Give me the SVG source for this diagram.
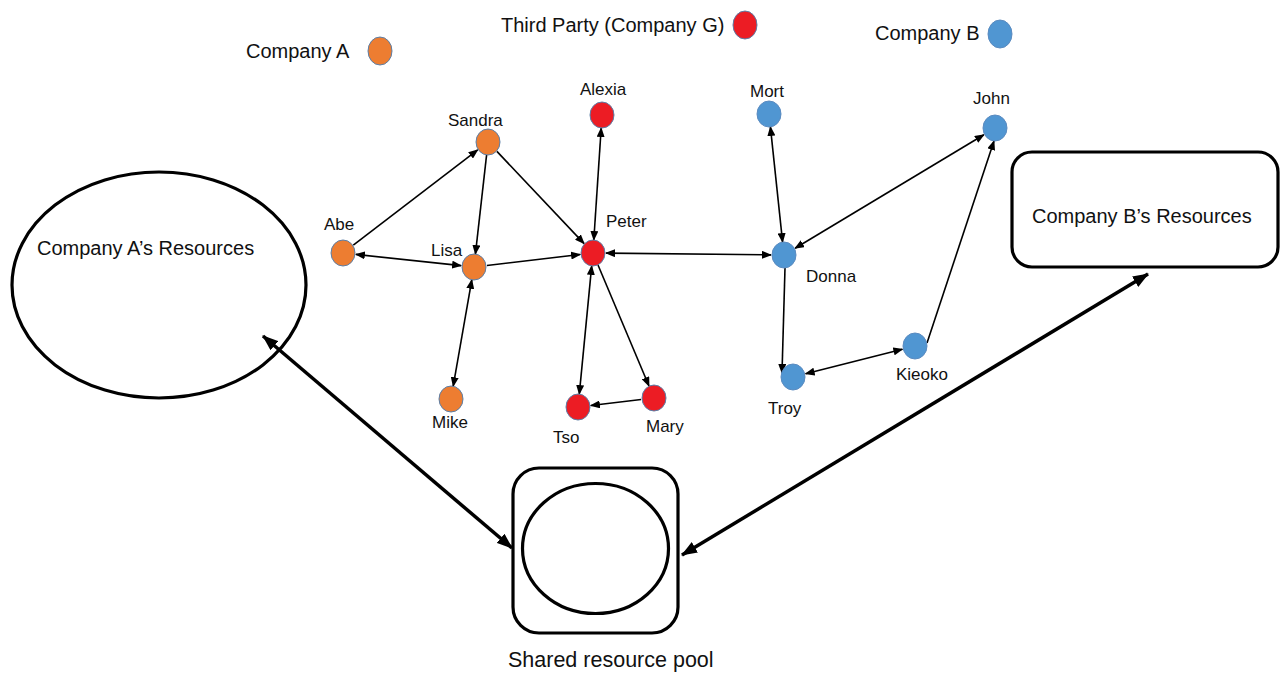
<svg xmlns="http://www.w3.org/2000/svg" width="1282" height="673" viewBox="0 0 1282 673">
<style>
text{font-family:"Liberation Sans",Arial,sans-serif;fill:#111}
.lbl{font-size:17px}
.leg{font-size:20px}
.big{font-size:20px}
.a{fill:#ED7D31;stroke:#5B7FA8;stroke-width:1}
.g{fill:#EC1C24;stroke:#5B7FA8;stroke-width:1}
.b{fill:#5096D2;stroke:#5B8BC0;stroke-width:1}
.res{fill:#fff;stroke:#000;stroke-width:3.2}
.e{stroke:#000;stroke-width:1.6;fill:none}
.eb{stroke:#000;stroke-width:3.5;fill:none}
</style>
<defs>
<marker id="ah" markerUnits="userSpaceOnUse" markerWidth="10" markerHeight="8" refX="9" refY="4" orient="auto-start-reverse" viewBox="0 0 10 8">
<path d="M0,0 L10,4 L0,8 Z" fill="#000"/>
</marker>
<marker id="ahb" markerUnits="userSpaceOnUse" markerWidth="16" markerHeight="12" refX="15" refY="6" orient="auto-start-reverse" viewBox="0 0 16 12">
<path d="M0,0 L16,6 L0,12 Z" fill="#000"/>
</marker>
</defs>

<g id="legend">
<text class="leg" x="246" y="58">Company A</text>
<ellipse class="a" cx="380" cy="51" rx="12" ry="14"/>
<text class="leg" x="501" y="32">Third Party (Company G)</text>
<ellipse class="g" cx="745" cy="25" rx="12" ry="14"/>
<text class="leg" x="875" y="40">Company B</text>
<ellipse class="b" cx="1000" cy="34" rx="12" ry="14"/>
</g>

<g id="resA">
<ellipse class="res" cx="159" cy="285" rx="147" ry="113"/>
<text class="big" x="37" y="255">Company A’s Resources</text>
</g>
<g id="resB">
<rect class="res" x="1012" y="152" width="266" height="115" rx="20"/>
<text class="big" x="1032" y="223">Company B’s Resources</text>
</g>
<g id="pool">
<rect class="res" x="513" y="468" width="165" height="165" rx="26"/>
<ellipse class="res" cx="595.5" cy="548.5" rx="73" ry="65"/>
<text x="508" y="667" style="font-size:21.5px">Shared resource pool</text>
</g>

<g id="connectors">
<line class="e" x1="353.3" y1="245.1" x2="477.7" y2="149.9" marker-end="url(#ah)"/>
<line class="e" x1="355.9" y1="254.4" x2="461.1" y2="265.6" marker-start="url(#ah)" marker-end="url(#ah)"/>
<line class="e" x1="486.6" y1="154.9" x2="475.4" y2="254.1" marker-end="url(#ah)"/>
<line class="e" x1="496.9" y1="151.4" x2="584.1" y2="243.6" marker-end="url(#ah)"/>
<line class="e" x1="486.9" y1="265.5" x2="580.1" y2="254.5" marker-end="url(#ah)"/>
<line class="e" x1="471.8" y1="279.8" x2="453.2" y2="386.2" marker-start="url(#ah)" marker-end="url(#ah)"/>
<line class="e" x1="601.2" y1="128" x2="593.8" y2="240" marker-start="url(#ah)" marker-end="url(#ah)"/>
<line class="e" x1="606" y1="253.1" x2="771" y2="254.9" marker-start="url(#ah)" marker-end="url(#ah)"/>
<line class="e" x1="591.7" y1="265.9" x2="579.3" y2="394.1" marker-start="url(#ah)" marker-end="url(#ah)"/>
<line class="e" x1="598" y1="265" x2="649" y2="386" marker-end="url(#ah)"/>
<line class="e" x1="641.1" y1="399.5" x2="590.9" y2="405.5" marker-end="url(#ah)"/>
<line class="e" x1="770.4" y1="126.9" x2="782.6" y2="242.1" marker-start="url(#ah)" marker-end="url(#ah)"/>
<line class="e" x1="795.1" y1="248.3" x2="983.9" y2="134.7" marker-start="url(#ah)" marker-end="url(#ah)"/>
<line class="e" x1="785" y1="268" x2="782" y2="373" marker-end="url(#ah)"/>
<line class="e" x1="805.6" y1="373.8" x2="902.4" y2="349.2" marker-start="url(#ah)" marker-end="url(#ah)"/>
<line class="e" x1="927" y1="343" x2="994" y2="141" marker-end="url(#ah)"/>
<line class="eb" x1="263" y1="336" x2="512" y2="548" marker-start="url(#ahb)" marker-end="url(#ahb)"/>
<line class="eb" x1="682" y1="555" x2="1148" y2="274" marker-start="url(#ahb)" marker-end="url(#ahb)"/>
</g>

<g id="Sandra"><ellipse class="a" cx="488" cy="142" rx="12" ry="13"/><text class="lbl" x="448" y="126">Sandra</text></g>
<g id="Abe"><ellipse class="a" cx="343" cy="253" rx="12" ry="13"/><text class="lbl" x="324" y="230">Abe</text></g>
<g id="Lisa"><ellipse class="a" cx="474" cy="267" rx="12" ry="13"/><text class="lbl" x="431" y="256">Lisa</text></g>
<g id="Mike"><ellipse class="a" cx="451" cy="399" rx="12" ry="13"/><text class="lbl" x="432" y="428">Mike</text></g>
<g id="Alexia"><ellipse class="g" cx="602" cy="115" rx="12" ry="13"/><text class="lbl" x="580" y="95">Alexia</text></g>
<g id="Peter"><ellipse class="g" cx="593" cy="253" rx="12" ry="13"/><text class="lbl" x="606" y="227">Peter</text></g>
<g id="Tso"><ellipse class="g" cx="578" cy="407" rx="12" ry="13"/><text class="lbl" x="553" y="443">Tso</text></g>
<g id="Mary"><ellipse class="g" cx="654" cy="398" rx="12" ry="13"/><text class="lbl" x="646" y="432">Mary</text></g>
<g id="Mort"><ellipse class="b" cx="769" cy="114" rx="12" ry="13"/><text class="lbl" x="750" y="97">Mort</text></g>
<g id="John"><ellipse class="b" cx="995" cy="128" rx="12" ry="13"/><text class="lbl" x="973" y="104">John</text></g>
<g id="Donna"><ellipse class="b" cx="784" cy="255" rx="12" ry="13"/><text class="lbl" x="806" y="282">Donna</text></g>
<g id="Troy"><ellipse class="b" cx="793" cy="377" rx="12" ry="13"/><text class="lbl" x="768" y="414">Troy</text></g>
<g id="Kieoko"><ellipse class="b" cx="915" cy="346" rx="12" ry="13"/><text class="lbl" x="896" y="380">Kieoko</text></g>
</svg>
